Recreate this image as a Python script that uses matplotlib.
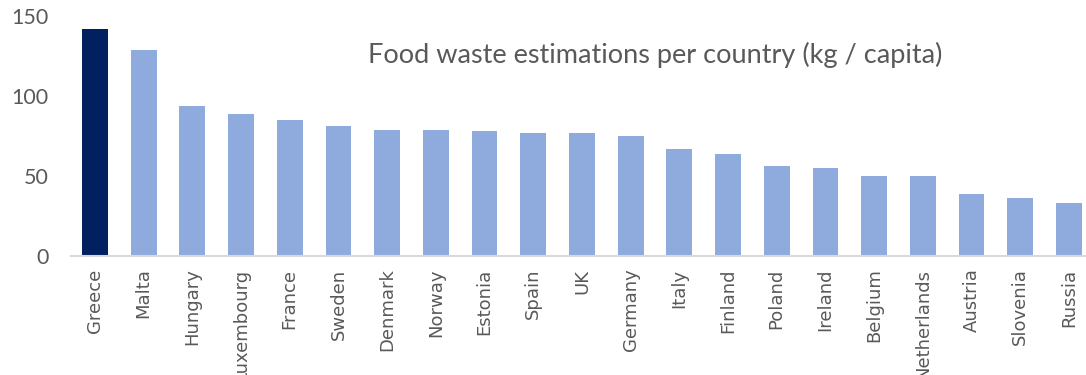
import matplotlib
matplotlib.use("Agg")
import matplotlib.pyplot as plt

countries = ["Greece", "Malta", "Hungary", "Luxembourg", "France", "Sweden",
             "Denmark", "Norway", "Estonia", "Spain", "UK", "Germany", "Italy",
             "Finland", "Poland", "Ireland", "Belgium", "Netherlands", "Austria",
             "Slovenia", "Russia"]
waste_kg = [142, 129, 94, 89, 85, 81, 79, 79, 78, 77, 77, 75, 67, 64, 56, 55,
            50, 50, 39, 36, 33]
y_ticks = [0, 50, 100, 150]
title = "Food waste estimations per country (kg / capita)"

highlight = "#002060"
base = "#8FAADC"
text_grey = "#595959"

fig = plt.figure(figsize=(10.86, 3.75), dpi=100)
ax = fig.add_axes([0.065, 0.3173, 0.9417, 0.64])

colors = [highlight if i == 0 else base for i in range(len(countries))]
x = list(range(len(countries)))
ax.bar(x, waste_kg, width=0.53, color=colors, zorder=2)

ax.set_xlim(-0.5, len(countries) - 0.5)
ax.set_ylim(0, 150)
ax.set_yticks(y_ticks)
ax.set_yticklabels([str(t) for t in y_ticks], fontsize=15.5, color=text_grey,
                   family="Lato")
ax.set_xticks(x)
ax.set_xticklabels(countries, rotation=90, fontsize=13, color=text_grey,
                   family="DejaVu Sans")
ax.tick_params(axis="both", length=0)
ax.tick_params(axis="y", pad=16)
ax.tick_params(axis="x", pad=9)

for side in ("top", "right", "left"):
    ax.spines[side].set_visible(False)
ax.spines["bottom"].set_color("#D9D9D9")
ax.spines["bottom"].set_linewidth(1.5)

fig.text(0.6036, 0.853, title, ha="center", va="center", fontsize=19.5,
         color=text_grey, family="Lato")

fig.savefig("out.png", dpi=100)
